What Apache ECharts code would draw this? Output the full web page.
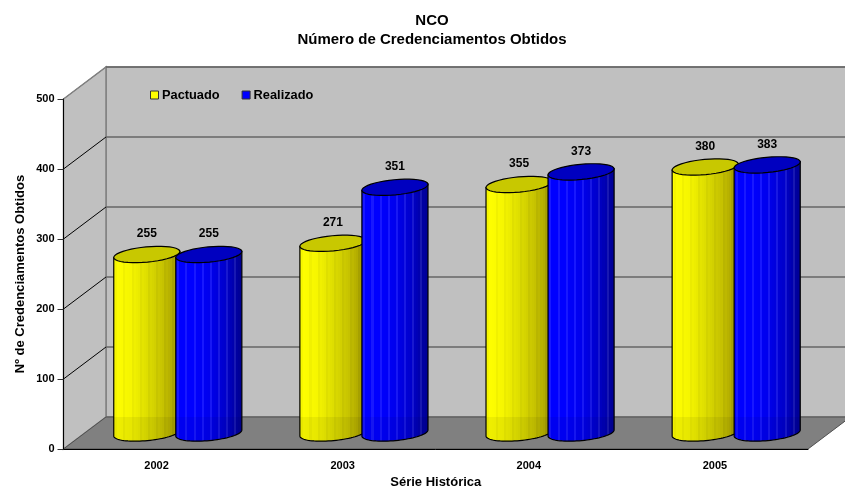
<!DOCTYPE html>
<html>
<head>
<meta charset="utf-8">
<style>
  html, body { margin: 0; padding: 0; background: #fff; }
  #chart { width: 845px; height: 488px; }
</style>
<script src="https://cdn.jsdelivr.net/npm/echarts@6/dist/echarts.min.js"></script>
</head>
<body>
<div id="chart"></div>
<script>
const categories = ['2002', '2003', '2004', '2005']
const pactuado = [255, 271, 355, 380]
const realizado = [255, 351, 373, 383]
const yTicks = [100, 200, 300, 400, 500]

const FONT = '"Liberation Sans", Arial, sans-serif'
// depth of the fake 3D box in pixels
const DEPTH_X = 42.5
const DEPTH_Y = -32
const RX = 33.2
const RY = 7.6
const TILT = -0.095

// ellipse outline, t in radians, y down
function ellipsePoints(cx, cy, from, to) {
  const pts = []
  const steps = 40
  for (let i = 0; i <= steps; i++) {
    const t = from + (to - from) * i / steps
    const ex = RX * Math.cos(t)
    const ey = RY * Math.sin(t)
    pts.push([
      cx + ex * Math.cos(TILT) - ey * Math.sin(TILT),
      cy + ex * Math.sin(TILT) + ey * Math.cos(TILT)
    ])
  }
  return pts
}

// vertical slats of the cylinder body
function slats(colors, light) {
  const stops = []
  const n = 33
  for (let i = 0; i < n; i++) {
    const p = i / (n - 1) * (colors.length - 1)
    const a = Math.min(Math.floor(p), colors.length - 2)
    const f = p - a
    const c = colors[a].map((v, k) => Math.round(v + (colors[a + 1][k] - v) * f))
    const odd = i % 4 === 1
    const col = odd ? c.map((v, k) => Math.max(0, Math.min(255, v + light[k]))) : c
    stops.push({ offset: i / n, color: `rgb(${col.join(',')})` })
    stops.push({ offset: (i + 1) / n, color: `rgb(${col.join(',')})` })
  }
  return stops
}

const yellowBody = slats([[255, 255, 0], [246, 246, 0], [222, 222, 0], [198, 194, 0], [160, 152, 0]], [-8, -8, 0])
const blueBody = slats([[0, 0, 255], [0, 0, 255], [0, 0, 238], [0, 0, 205], [0, 0, 145]], [24, 24, 10])

function cylinderSeries(name, values, offset, bodyStops, topColor, legendColor) {
  return {
    name,
    type: 'custom',
    z: 5,
    itemStyle: { color: legendColor },
    data: values.map((v, i) => [i, v]),
    renderItem(params, api) {
      const top = api.coord([api.value(0), api.value(1)])
      const base = api.coord([api.value(0), 0])
      const cx = top[0] + DEPTH_X / 2 + offset
      const ty = top[1] + DEPTH_Y / 2
      const by = base[1] + DEPTH_Y / 2
      const lower = ellipsePoints(cx, by, 0, Math.PI)
      const body = lower.concat([ellipsePoints(cx, ty, Math.PI, Math.PI)[0], ellipsePoints(cx, ty, 0, 0)[0]])
      // the part of the body in front of the floor is a little darker
      const floorBack = base[1] + DEPTH_Y
      const shade = lower.concat([[cx - RX, floorBack], [cx + RX, floorBack]])
      return {
        type: 'group',
        children: [
          {
            type: 'polygon',
            shape: { points: body },
            style: {
              fill: new echarts.graphic.LinearGradient(0, 0, 1, 0, bodyStops),
              stroke: '#000',
              lineWidth: 1.2
            }
          },
          {
            type: 'polygon',
            shape: { points: shade },
            style: { fill: 'rgba(0,0,0,0.06)' }
          },
          {
            type: 'polygon',
            shape: { points: ellipsePoints(cx, ty, 0, Math.PI * 2) },
            style: { fill: topColor, stroke: '#000', lineWidth: 1.2 }
          },
          {
            type: 'text',
            style: {
              x: cx,
              y: ty - 20.5,
              text: String(api.value(1)),
              align: 'center',
              verticalAlign: 'middle',
              fill: '#000',
              font: `bold 12px ${FONT}`
            }
          }
        ]
      }
    }
  }
}

const chart = echarts.init(document.getElementById('chart'))
chart.setOption({
  animation: false,
  backgroundColor: '#fff',
  title: {
    text: 'NCO\nNúmero de Credenciamentos Obtidos',
    left: 427,
    top: 7,
    textAlign: 'center',
    textStyle: { fontFamily: FONT, fontSize: 15, fontWeight: 'bold', color: '#000', lineHeight: 18.5 }
  },
  legend: {
    left: 145,
    top: 83.5,
    icon: 'rect',
    itemWidth: 8,
    itemHeight: 8,
    itemGap: 22,
    data: ['Pactuado', 'Realizado'],
    itemStyle: { borderColor: '#333', borderWidth: 1 },
    textStyle: { fontFamily: FONT, fontSize: 12.8, fontWeight: 'bold', color: '#000', padding: [0, 0, 0, -1.5] }
  },
  grid: { left: 63.5, right: 37, top: 99, height: 350, outerBoundsMode: 'none' },
  xAxis: {
    type: 'category',
    data: categories,
    z: 10,
    name: 'Série Histórica',
    nameLocation: 'middle',
    nameGap: 27,
    nameTextStyle: { fontFamily: FONT, fontSize: 13, fontWeight: 'bold', color: '#000' },
    axisLine: { lineStyle: { color: '#000', width: 1 } },
    axisTick: { length: 6, lineStyle: { color: '#333' } },
    axisLabel: { fontFamily: FONT, fontSize: 11, fontWeight: 'bold', color: '#000', margin: 11 }
  },
  yAxis: {
    type: 'value',
    min: 0,
    max: 500,
    interval: 100,
    z: 10,
    name: 'Nº de Credenciamentos Obtidos',
    nameLocation: 'middle',
    nameGap: 37,
    nameMoveOverlap: false,
    nameTextStyle: { fontFamily: FONT, fontSize: 13, fontWeight: 'bold', color: '#000' },
    axisLine: { show: true, lineStyle: { color: '#000', width: 1 } },
    axisTick: { show: true, length: 6, lineStyle: { color: '#333' } },
    axisLabel: { fontFamily: FONT, fontSize: 11, fontWeight: 'bold', color: '#000', margin: 9 },
    splitLine: { show: false }
  },
  series: [
    {
      // back wall, side wall and floor
      type: 'custom',
      z: 1,
      silent: true,
      data: [[0, 0]],
      renderItem(params, api) {
        const sys = params.coordSys
        const l = sys.x
        const r = sys.x + sys.width
        const t = sys.y
        const b = sys.y + sys.height
        return {
          type: 'group',
          children: [
            {
              type: 'polygon',
              shape: { points: [[l + DEPTH_X, t + DEPTH_Y], [r + DEPTH_X, t + DEPTH_Y], [r + DEPTH_X, b + DEPTH_Y], [l + DEPTH_X, b + DEPTH_Y]] },
              style: { fill: '#c0c0c0', stroke: '#808080', lineWidth: 1.5 }
            },
            {
              type: 'polygon',
              shape: { points: [[l, t], [l + DEPTH_X, t + DEPTH_Y], [l + DEPTH_X, b + DEPTH_Y], [l, b]] },
              style: { fill: '#c0c0c0', stroke: '#808080', lineWidth: 1.5 }
            },
            {
              type: 'polygon',
              shape: { points: [[l, b], [l + DEPTH_X, b + DEPTH_Y], [r + DEPTH_X, b + DEPTH_Y], [r, b]] },
              style: { fill: '#808080', stroke: '#505050', lineWidth: 1 }
            }
          ]
        }
      }
    },
    {
      // gridlines across both walls
      type: 'custom',
      z: 2,
      silent: true,
      data: yTicks.map(v => [0, v]),
      renderItem(params, api) {
        const sys = params.coordSys
        const y = api.coord([0, api.value(1)])[1]
        const l = sys.x
        const r = sys.x + sys.width
        return {
          type: 'group',
          children: [
            {
              type: 'line',
              shape: { x1: l, y1: y, x2: l + DEPTH_X, y2: y + DEPTH_Y },
              style: { stroke: api.value(1) === 500 ? '#808080' : '#000', lineWidth: 1 }
            },
            {
              type: 'line',
              shape: { x1: l + DEPTH_X, y1: y + DEPTH_Y, x2: r + DEPTH_X, y2: y + DEPTH_Y },
              style: { stroke: '#666', lineWidth: 1.5 }
            }
          ]
        }
      }
    },
    cylinderSeries('Pactuado', pactuado, -31, yellowBody, '#c8c800', '#ffff00'),
    cylinderSeries('Realizado', realizado, 31, blueBody, '#0000c0', '#0000ff')
  ]
})
</script>
</body>
</html>
